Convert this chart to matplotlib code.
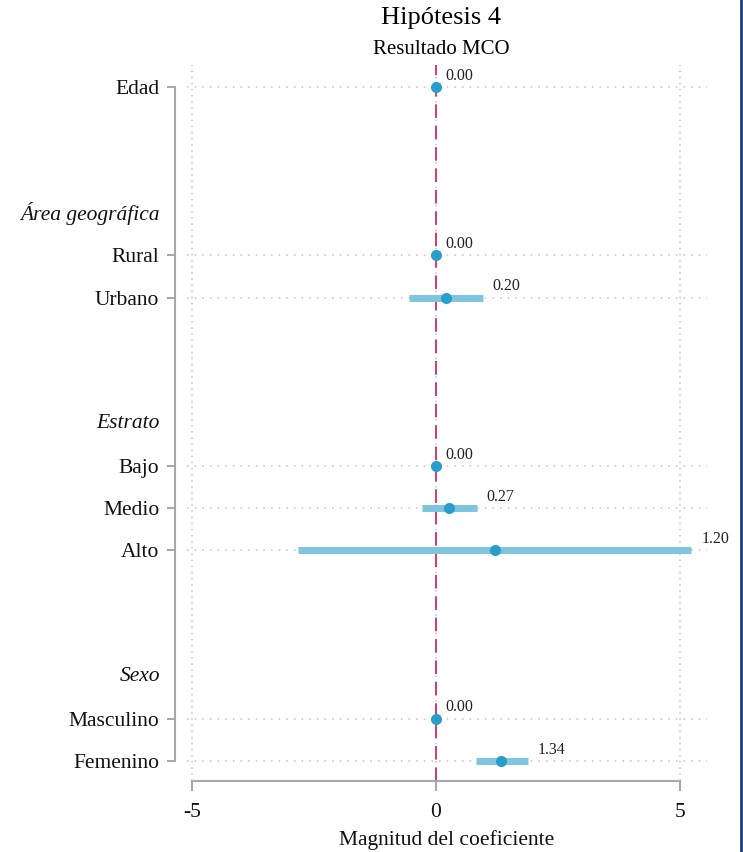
import matplotlib
matplotlib.use("Agg")
import matplotlib.pyplot as plt
from matplotlib.lines import Line2D

plt.rcParams['font.family'] = ['Liberation Serif', 'DejaVu Serif']

# ---- data ----
labels = ["Edad", "Rural", "Urbano", "Bajo", "Medio", "Alto", "Masculino", "Femenino"]
positions = [0, 4, 5, 9, 10, 11, 15, 16]
estimates = [0.00, 0.00, 0.20, 0.00, 0.27, 1.20, 0.00, 1.34]
ci_low = [0.00, 0.00, -0.55, 0.00, -0.29, -2.83, 0.00, 0.82]
ci_high = [0.00, 0.00, 0.96, 0.00, 0.84, 5.23, 0.00, 1.89]
headings = ["Área geográfica", "Estrato", "Sexo"]
heading_pos = [3, 8, 14]
xticks = [-5, 0, 5]

W, H = 743, 852
fig = plt.figure(figsize=(W / 100, H / 100), dpi=100)
ax = fig.add_axes([187 / W, (H - 781) / H, 520 / W, 716 / H])

ax.set_xlim(-5.10, 5.55)
ax.set_ylim(16.475, -0.52)

grid_col = "#c4c4c4"
for p in positions:
    ax.axhline(p, color=grid_col, lw=1.1, ls=(0, (1, 4)), zorder=0)
for xt in xticks:
    ax.axvline(xt, color=grid_col, lw=1.1, ls=(0, (1, 3)), zorder=0)

ax.axvline(0, color="#d63a6a", lw=1.4, ls=(0, (7, 4)), zorder=1)

ax.hlines(positions, ci_low, ci_high, color="#7ec5df", lw=5, zorder=2)
ax.plot(estimates, positions, "o", color="#2a9ecb", ms=8, zorder=3, mec="none")

for p, e, hi in zip(positions, estimates, ci_high):
    ax.text(hi + 0.2, p - 0.27, f"{e:.2f}", fontsize=11.5, ha="left", va="center",
            color="#222222")

ax.set_yticks(positions)
ax.set_yticklabels(labels)
ax.set_xticks(xticks)
ax.set_xticklabels([str(x) for x in xticks])

for sp in ["top", "right"]:
    ax.spines[sp].set_visible(False)
spcol = "#a8a8a8"
ax.spines["left"].set_position(("outward", 9))
ax.spines["left"].set_bounds(0, 16)
ax.spines["bottom"].set_bounds(-5, 5)
for sp in ["left", "bottom"]:
    ax.spines[sp].set_color(spcol)
    ax.spines[sp].set_linewidth(1.5)
ax.tick_params(axis="y", length=6, width=1.5, color=spcol, pad=5,
               labelcolor="#111111", labelsize=15.5)
ax.tick_params(axis="x", length=7, width=1.5, color=spcol, pad=9,
               labelcolor="#111111", labelsize=15.5)

for hp, ht in zip(heading_pos, headings):
    ax.annotate(ht, xy=(0, hp), xycoords=("axes fraction", "data"),
                xytext=(-19.5, 0), textcoords="offset points",
                ha="right", va="center", fontsize=15.5, style="italic", color="#111111")

ax.set_xlabel("Magnitud del coeficiente", fontsize=15.5, labelpad=6, color="#111111")

fig.text(441 / W, 1 - 18 / H, "Hipótesis 4", ha="center", va="center", fontsize=19)
fig.text(441 / W, 1 - 50 / H, "Resultado MCO", ha="center", va="center", fontsize=15)

# right edge frame line seen in reference
fig.add_artist(Line2D([740.5 / W, 740.5 / W], [0, 1], color="#1f3f7a", lw=2,
                      transform=fig.transFigure))

fig.savefig("out.png", dpi=100)
